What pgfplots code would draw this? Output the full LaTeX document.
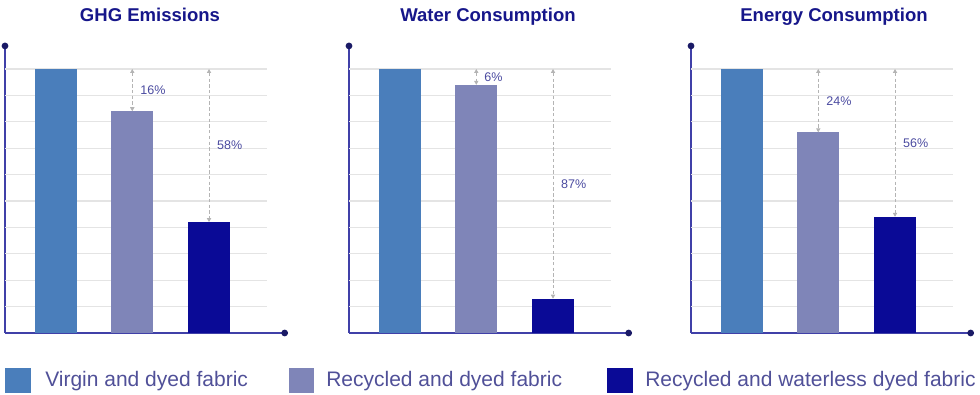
\documentclass[border=0pt]{standalone}
\usepackage{pgfplots}
\pgfplotsset{compat=1.18}
\usepackage{fontspec}
\setmainfont{Liberation Sans}
\usetikzlibrary{arrows.meta}

\definecolor{virgin}{HTML}{4A7EBB}
\definecolor{recyc}{HTML}{7F85B8}
\definecolor{waterless}{HTML}{0A0A96}
\definecolor{axisline}{HTML}{4040A8}
\definecolor{axisdot}{HTML}{1A1A66}
\definecolor{titlec}{HTML}{16168A}
\definecolor{labelc}{HTML}{4B4BA0}
\definecolor{legendc}{HTML}{505098}
\definecolor{gridc}{HTML}{E4E4E4}
\definecolor{guide}{HTML}{B4B4B4}

\tikzset{
  gaplabel/.style={anchor=west, xshift=2.5pt, text=labelc,
    font=\fontsize{9.4}{11}\selectfont},
}
\pgfplotsset{
  panel/.style={
    scale only axis, width=212.25pt, height=217.8pt,
    xmin=0.342, xmax=4.029, ymin=0, ymax=110,
    axis lines=left, ticks=none, clip=false,
    axis line style={line width=1.1pt, axisline,
      -{Circle[length=5pt, fill=axisdot, color=axisdot]}},
    anchor=south west,
  },
  fbar/.style={ybar, bar width=31.5pt, bar shift=0pt, draw=none, fill=#1},
  gap/.style={guide, line width=0.6pt, dash pattern=on 2.5pt off 1.8pt,
    {Triangle[length=3pt,width=3.2pt]}-{Triangle[length=3pt,width=3.2pt]}},
}

% one panel: axis with grid, three bars and two reduction guides
\newcommand{\panel}[5]{%
  \begin{axis}[panel, at={(#1,46.5pt)}]
    \pgfplotsinvokeforeach{10,20,...,100}{
      \draw[gridc, line width=0.8pt] (axis cs:0.342,##1) -- (axis cs:3.756,##1);
    }
    \addplot[fbar=virgin] coordinates {(1,100)};
    \addplot[fbar=recyc] coordinates {(2,#2)};
    \addplot[fbar=waterless] coordinates {(3,#4)};
    \addplot[gap] coordinates {(2,100) (2,#2)} node[pos=0.5, gaplabel] {#3\%};
    \addplot[gap] coordinates {(3,100) (3,#4)} node[pos=0.5, gaplabel] {#5\%};
  \end{axis}%
}

\begin{document}
\begin{tikzpicture}
  \path[use as bounding box] (0,0) rectangle (735pt,296.25pt);

  % GHG emissions: 84 (-16%), 42 (-58%)
  \panel{3.75pt}{84}{16}{42}{58}
  % Water consumption: 94 (-6%), 13 (-87%)
  \panel{261.75pt}{94}{6}{13}{87}
  % Energy consumption: 76 (-24%), 44 (-56%)
  \panel{518.25pt}{76}{24}{44}{56}

  \begin{scope}[font=\bfseries\fontsize{13.9}{16}\selectfont, text=titlec]
    \node[anchor=base] at (112.5pt,279.75pt) {GHG Emissions};
    \node[anchor=base] at (366pt,279.75pt) {Water Consumption};
    \node[anchor=base] at (625.5pt,279.75pt) {Energy Consumption};
  \end{scope}

  \fill[virgin] (3.75pt,1.5pt) rectangle (23.25pt,20.25pt);
  \fill[recyc] (216.75pt,1.5pt) rectangle (235.5pt,20.25pt);
  \fill[waterless] (455.25pt,1.5pt) rectangle (474.75pt,20.25pt);
  \begin{scope}[font=\fontsize{15.75}{18}\selectfont, text=legendc]
    \node[anchor=base west, inner sep=0pt] at (33.75pt,6pt) {Virgin and dyed fabric};
    \node[anchor=base west, inner sep=0pt] at (244.5pt,6pt) {Recycled and dyed fabric};
    \node[anchor=base west, inner sep=0pt] at (483.75pt,6pt) {Recycled and waterless dyed fabric};
  \end{scope}
\end{tikzpicture}
\end{document}
